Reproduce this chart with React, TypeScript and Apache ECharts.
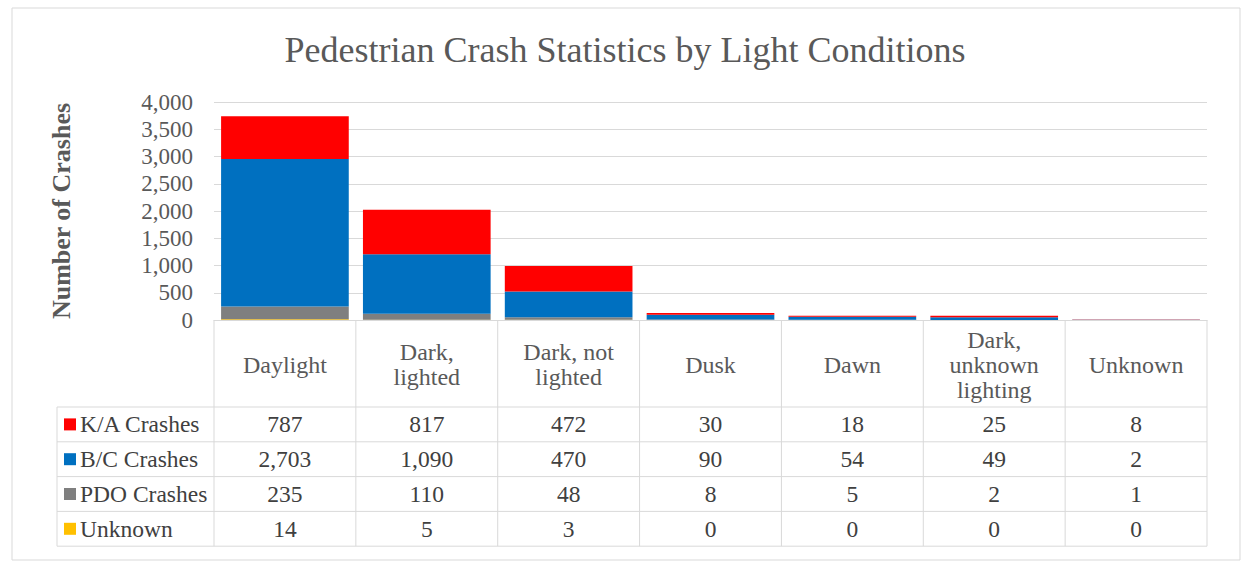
import React, { useEffect, useRef } from "react";
import * as echarts from "echarts";

const categories = ["Daylight", "Dark, lighted", "Dark, not lighted", "Dusk", "Dawn", "Dark, unknown lighting", "Unknown"];
const categoryLines = [["Daylight"], ["Dark,", "lighted"], ["Dark, not", "lighted"], ["Dusk"], ["Dawn"], ["Dark,", "unknown", "lighting"], ["Unknown"]];
const kaCrashes = [787, 817, 472, 30, 18, 25, 8];
const bcCrashes = [2703, 1090, 470, 90, 54, 49, 2];
const pdoCrashes = [235, 110, 48, 8, 5, 2, 1];
const unknownCrashes = [14, 5, 3, 0, 0, 0, 0];
const tableRowNames = ["K/A Crashes", "B/C Crashes", "PDO Crashes", "Unknown"];
const tableRowValues = [kaCrashes, bcCrashes, pdoCrashes, unknownCrashes];
const rowColors = ["#FF0000", "#0070C0", "#7F7F7F", "#FFC000"];

export default function App() {
  const ref = useRef<HTMLDivElement>(null);
  useEffect(() => {
    if (!ref.current) return;
    const W = 1250;
    const H = 567;
    const plotL = 214;
    const plotR = 1207;
    const plotT = 102;
    const axisY = 320;
    const headerB = 407;
    const rowH = 34.8;
    const legendL = 57;
    const lineColor = "#D9D9D9";
    const textColor = "#404040";
    const axisText = "#595959";
    const fmt = (v: number) => v.toLocaleString("en-US");

    const chart = echarts.init(ref.current, undefined, { renderer: "svg" });
    const n = categories.length;
    const band = (plotR - plotL) / n;
    const tableBottom = headerB + rowH * tableRowNames.length;
    const graphics: any[] = [];
    graphics.push({ type: "rect", shape: { x: 12, y: 8, width: 1228, height: 552 }, style: { fill: "#fff", stroke: lineColor, lineWidth: 1 }, z: -10 });
    for (let i = 0; i <= n; i++) {
      const x = plotL + band * i;
      graphics.push({ type: "line", shape: { x1: x, y1: axisY, x2: x, y2: tableBottom }, style: { stroke: lineColor, lineWidth: 1 } });
    }
    graphics.push({ type: "line", shape: { x1: legendL, y1: headerB, x2: legendL, y2: tableBottom }, style: { stroke: lineColor, lineWidth: 1 } });
    for (let r = 0; r <= tableRowNames.length; r++) {
      const y = headerB + rowH * r;
      graphics.push({ type: "line", shape: { x1: legendL, y1: y, x2: plotR, y2: y }, style: { stroke: lineColor, lineWidth: 1 } });
    }
    categoryLines.forEach((lines, i) => {
      const midY = (axisY + headerB) / 2 + 1;
      lines.forEach((ln, k) => {
        graphics.push({
          type: "text", x: plotL + band * (i + 0.5), y: midY + (k - (lines.length - 1) / 2) * 25,
          style: { text: ln, font: "24px Liberation Serif", fill: axisText, align: "center", verticalAlign: "middle" },
        });
      });
    });
    tableRowNames.forEach((name, r) => {
      const cy = headerB + rowH * (r + 0.5);
      graphics.push({ type: "rect", shape: { x: 64, y: cy - 6, width: 12, height: 12 }, style: { fill: rowColors[r] } });
      graphics.push({
        type: "text", x: 80, y: cy,
        style: { text: name, font: "23.5px Liberation Serif", fill: textColor, align: "left", verticalAlign: "middle" },
      });
      tableRowValues[r].forEach((v, i) => {
        graphics.push({
          type: "text", x: plotL + band * (i + 0.5), y: cy,
          style: { text: fmt(v), font: "23.5px Liberation Serif", fill: textColor, align: "center", verticalAlign: "middle" },
        });
      });
    });

    const mk = (name: string, data: number[], color: string) => ({
      name, type: "bar", stack: "total", data, barCategoryGap: "10%",
      itemStyle: { color },
    });

    chart.setOption({
      animation: false,
      title: {
        text: "Pedestrian Crash Statistics by Light Conditions",
        left: "center", top: 27,
        textStyle: { fontFamily: "Liberation Serif", fontSize: 36, fontWeight: 400, color: axisText },
      },
      grid: { left: plotL, right: W - plotR, top: plotT, bottom: H - axisY },
      xAxis: {
        type: "category", data: categories,
        axisLine: { show: true, lineStyle: { color: lineColor, width: 1 } },
        axisTick: { show: false }, axisLabel: { show: false },
      },
      yAxis: {
        type: "value", min: 0, max: 4000, interval: 500,
        name: "Number of Crashes", nameLocation: "middle", nameGap: 140, nameRotate: 90,
        nameTextStyle: { fontFamily: "Liberation Serif", fontSize: 26, fontWeight: "bold", color: axisText },
        axisLine: { show: false }, axisTick: { show: false },
        splitLine: { lineStyle: { color: lineColor, width: 1 } },
        axisLabel: { fontFamily: "Liberation Serif", fontSize: 23, color: axisText, margin: 21 },
      },
      series: [
        mk("Unknown", unknownCrashes, rowColors[3]),
        mk("PDO Crashes", pdoCrashes, rowColors[2]),
        mk("B/C Crashes", bcCrashes, rowColors[1]),
        mk("K/A Crashes", kaCrashes, rowColors[0]),
      ],
      graphic: graphics,
    });
    return () => chart.dispose();
  }, []);
  return <div ref={ref} style={{ position: "absolute", left: 0, top: 0, width: 1250, height: 567, background: "#fff" }} />;
}
